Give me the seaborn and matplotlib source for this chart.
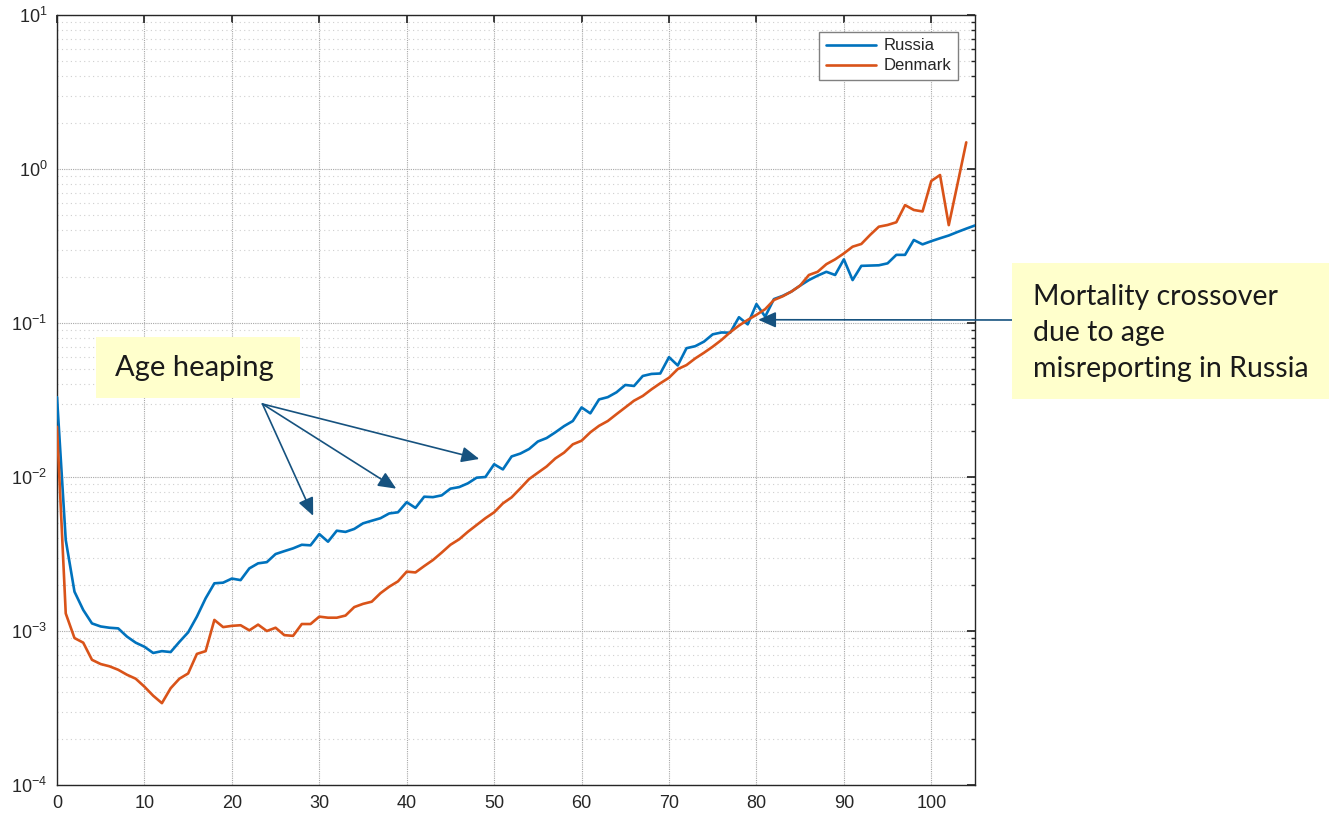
import matplotlib
matplotlib.use("Agg")
import matplotlib.pyplot as plt
import matplotlib.ticker as mticker
from matplotlib.patches import Rectangle
import numpy as np
import pandas as pd
import seaborn as sns

# age-specific death rates
russia_ages = list(range(0, 106))
russia_rates = [
    0.033, 0.0039, 0.0018, 0.00137, 0.00112, 0.00107, 0.00105, 0.00104, 0.00092, 0.00084,
    0.00079, 0.00072, 0.00074, 0.00073, 0.00085, 0.00098, 0.00124, 0.00163, 0.00204, 0.00206,
    0.00219, 0.00214, 0.00255, 0.00275, 0.0028, 0.00316, 0.0033, 0.00344, 0.00363, 0.0036,
    0.00426, 0.0038, 0.00448, 0.0044, 0.0046, 0.005, 0.0052, 0.0054, 0.0058, 0.0059,
    0.00686, 0.0063, 0.00745, 0.0074, 0.0076, 0.0084, 0.0086, 0.0091, 0.0099, 0.0100,
    0.0121, 0.0112, 0.0136, 0.0142, 0.0152, 0.0170, 0.0179, 0.0195, 0.0214, 0.0231,
    0.0283, 0.0259, 0.0319, 0.033, 0.0355, 0.0396, 0.039, 0.0453, 0.0467, 0.047,
    0.060, 0.053, 0.0686, 0.0707, 0.0757, 0.0844, 0.0868, 0.0865, 0.109, 0.098,
    0.1327, 0.110, 0.143, 0.150, 0.16, 0.175, 0.19, 0.203, 0.215, 0.205,
    0.259, 0.19, 0.235, 0.236, 0.237, 0.244, 0.277, 0.277, 0.346, 0.324,
    0.34, 0.355, 0.37, 0.39, 0.41, 0.43,
]

denmark_ages = list(range(0, 105))
denmark_rates = [
    0.0212, 0.0013, 0.0009, 0.00084, 0.00065, 0.00061, 0.00059, 0.00056, 0.00052, 0.00049,
    0.000435, 0.00038, 0.00034, 0.000425, 0.00049, 0.00053, 0.00071, 0.00074, 0.00118, 0.00106,
    0.00108, 0.00109, 0.00101, 0.0011, 0.001, 0.00105, 0.00094, 0.00093, 0.00111, 0.00111,
    0.00124, 0.00122, 0.00122, 0.00126, 0.00143, 0.0015, 0.00155, 0.00176, 0.00194, 0.0021,
    0.00243, 0.0024, 0.00264, 0.00289, 0.00323, 0.00363, 0.00394, 0.00441, 0.00488, 0.0054,
    0.0059, 0.00674, 0.00738, 0.00844, 0.0097, 0.01066, 0.0117, 0.0132, 0.0144, 0.0163,
    0.0172, 0.0195, 0.0215, 0.0231, 0.0256, 0.0283, 0.0313, 0.0336, 0.0371, 0.0406,
    0.0441, 0.0502, 0.0533, 0.0589, 0.0641, 0.0702, 0.0776, 0.0871, 0.0962, 0.1047,
    0.113, 0.123, 0.141, 0.149, 0.16, 0.175, 0.205, 0.215, 0.241, 0.259,
    0.283, 0.313, 0.326, 0.373, 0.422, 0.433, 0.451, 0.583, 0.542, 0.53,
    0.836, 0.914, 0.432, 0.80, 1.49,
]

countries = ["Russia", "Denmark"]
colors = {"Russia": "#0072BD", "Denmark": "#D95319"}

df = pd.concat([
    pd.DataFrame({"age": russia_ages, "rate": russia_rates, "country": "Russia"}),
    pd.DataFrame({"age": denmark_ages, "rate": denmark_rates, "country": "Denmark"}),
])

sns.set_theme(style="white")
plt.rcParams["font.family"] = ["Liberation Sans", "DejaVu Sans"]
plt.rcParams["mathtext.default"] = "regular"

W, H = 1329, 818
fig = plt.figure(figsize=(W / 100, H / 100), dpi=100)
ax = fig.add_axes([57 / W, 1 - 785 / H, (975 - 57) / W, (785 - 15) / H])

sns.lineplot(data=df, x="age", y="rate", hue="country", hue_order=countries,
             palette=colors, linewidth=1.9, ax=ax, zorder=3)

ax.set_yscale("log")
ax.set_xlim(0, 105)
ax.set_ylim(1e-4, 1e1)
ax.set_xticks(range(0, 101, 10))
ax.yaxis.set_major_locator(mticker.LogLocator(base=10, numticks=10))
ax.yaxis.set_minor_locator(mticker.LogLocator(base=10, subs=np.arange(2, 10), numticks=20))
ax.yaxis.set_minor_formatter(mticker.NullFormatter())
ax.set_xlabel("")
ax.set_ylabel("")

ax.grid(True, which="major", color="#a8a8a8", linestyle=(0, (1, 1)), linewidth=0.8)
ax.grid(True, which="minor", axis="y", color="#cfcfcf", linestyle=(0, (1, 3)), linewidth=0.8)
ax.set_axisbelow(True)

for s in ax.spines.values():
    s.set_color("#262626")
    s.set_linewidth(1.0)
ax.tick_params(which="both", direction="in", top=True, right=True,
               colors="#262626", labelsize=13, pad=7)
ax.tick_params(which="major", length=6)
ax.tick_params(which="minor", length=3)

handles, labels = ax.get_legend_handles_labels()
leg = ax.legend(handles, labels, loc="upper right", fontsize=12, frameon=True,
                fancybox=False, edgecolor="#808080", framealpha=1,
                borderaxespad=1.0, handlelength=3.0, borderpad=0.4,
                labelspacing=0.3, handletextpad=0.5)
leg.get_frame().set_linewidth(1.0)

arrow_color = "#16527F"
# age heaping arrows
origin = (23.5, 0.0298)
for tip in [(29.3, 0.0056), (38.8, 0.0084), (48.3, 0.0131)]:
    ax.annotate("", xy=tip, xytext=origin,
                arrowprops=dict(arrowstyle="-|>,head_length=0.9,head_width=0.4",
                                color=arrow_color, lw=1.2, shrinkA=0, shrinkB=0),
                zorder=4)

# crossover arrow from the side box
ax.annotate("", xy=(80.2, 0.105), xycoords="data",
            xytext=(1012, H - 320), textcoords="figure pixels",
            arrowprops=dict(arrowstyle="-|>,head_length=0.9,head_width=0.4",
                            color=arrow_color, lw=1.2, shrinkA=0, shrinkB=0),
            annotation_clip=False, zorder=4)

box_color = "#FFFFCC"
fig.add_artist(Rectangle((96 / W, 1 - 398 / H), 204 / W, 61 / H,
                         transform=fig.transFigure, facecolor=box_color,
                         edgecolor="none", zorder=5))
fig.text(194 / W, 1 - 368 / H, "Age heaping", ha="center", va="center",
         fontsize=21, family=["Lato", "DejaVu Sans"], color="#1a1a1a", zorder=6)

fig.add_artist(Rectangle((1012 / W, 1 - 399 / H), 317 / W, 136 / H,
                         transform=fig.transFigure, facecolor=box_color,
                         edgecolor="none", zorder=5))
fig.text(1033 / W, 1 - 333 / H, "Mortality crossover\ndue to age\nmisreporting in Russia",
         ha="left", va="center", fontsize=20.5, linespacing=1.5,
         family=["Lato", "DejaVu Sans"], color="#1a1a1a", zorder=6)

fig.savefig("out.png", dpi=100)
